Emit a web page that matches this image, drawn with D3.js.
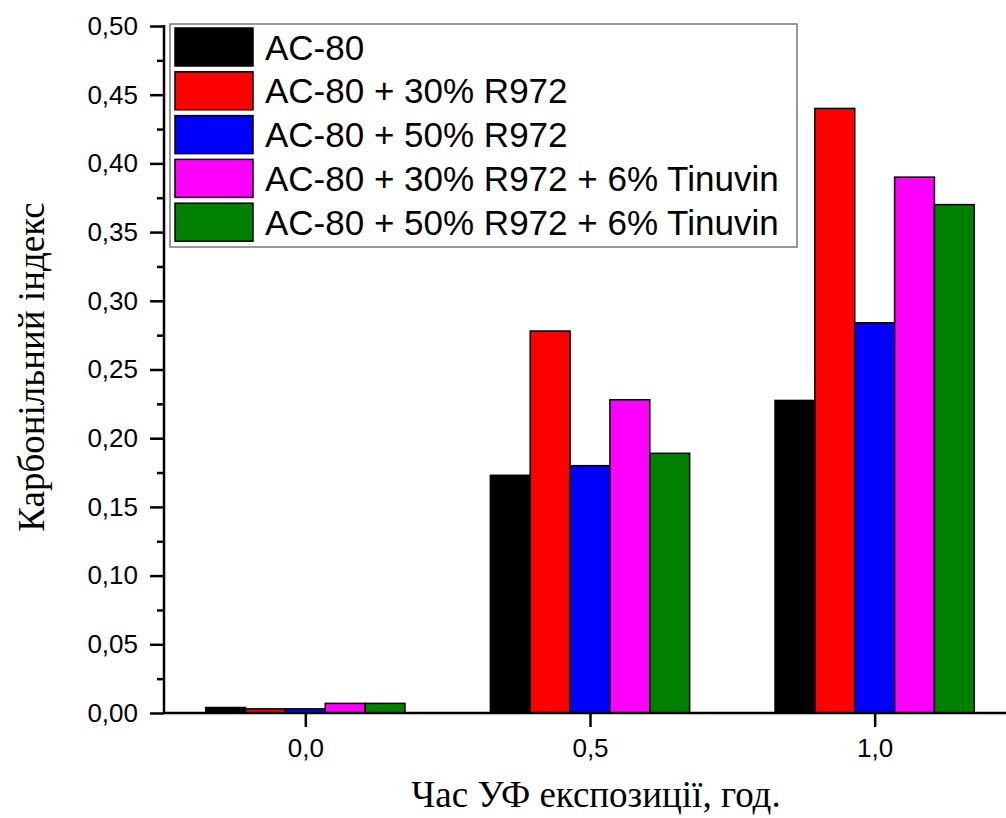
<!DOCTYPE html>
<html>
<head>
<meta charset="utf-8">
<script src="https://cdn.jsdelivr.net/npm/d3@7"></script>
<style>
  body { margin: 0; background: #fff; }
  svg { display: block; }
</style>
</head>
<body>
<div id="chart"></div>
<script>
// категорії (час експозиції) і серії
const hours = [0.0, 0.5, 1.0];
const seriesNames = ["AC-80", "AC-80 + 30% R972", "AC-80 + 50% R972", "AC-80 + 30% R972 + 6% Tinuvin", "AC-80 + 50% R972 + 6% Tinuvin"];
const seriesColors = ["#000000", "#ff0000", "#0000ff", "#ff00ff", "#008000"];
const ac80 = [0.004, 0.173, 0.2275];
const ac80r30 = [0.003, 0.278, 0.44];
const ac80r50 = [0.003, 0.180, 0.284];
const ac80r30t = [0.007, 0.228, 0.39];
const ac80r50t = [0.007, 0.189, 0.37];
const yTicks = [0, 0.05, 0.10, 0.15, 0.20, 0.25, 0.30, 0.35, 0.40, 0.45, 0.50];
const xTicks = [0.0, 0.5, 1.0];

const seriesValues = [ac80, ac80r30, ac80r50, ac80r30t, ac80r50t];

const W = 1006, H = 818;
const plotLeft = 164, plotTop = 26, plotBottom = 713;
const sans = "Arial, 'Liberation Sans', sans-serif";
const serif = "'Times New Roman', 'Liberation Serif', serif";

const svg = d3.select("#chart").append("svg")
  .attr("width", W).attr("height", H);

const x = d3.scaleLinear().domain([-0.25, 1.25]).range([163, 1017]);
const y = d3.scaleLinear().domain([0, 0.5]).range([plotBottom, plotTop]);

const barW = 0.07;
const fmt = d3.format(".2f"), fmt1 = d3.format(".1f");

// стовпці
seriesValues.forEach((vals, s) => {
  svg.append("g").selectAll("rect")
    .data(vals)
    .enter()
    .append("rect")
    .attr("x", (d, i) => x(hours[i] - 2.5 * barW + s * barW))
    .attr("y", d => y(d))
    .attr("width", (d, i) => x(hours[i] + barW) - x(hours[i]))
    .attr("height", d => y(0) - y(d))
    .attr("fill", seriesColors[s])
    .attr("stroke", "#000")
    .attr("stroke-width", 1.5);
});

// вісь Y
const yAxis = svg.append("g")
  .attr("transform", `translate(${plotLeft},0)`)
  .call(d3.axisLeft(y).tickValues(yTicks).tickSize(14).tickPadding(12)
    .tickFormat(d => fmt(d).replace(".", ",")));
const yMinor = svg.append("g")
  .attr("transform", `translate(${plotLeft},0)`)
  .call(d3.axisLeft(y).tickValues(d3.range(0.025, 0.5, 0.05)).tickSize(7).tickFormat(""));

// вісь X
const xAxis = svg.append("g")
  .attr("transform", `translate(0,${plotBottom})`)
  .call(d3.axisBottom(x).tickValues(xTicks).tickSize(14).tickPadding(12)
    .tickFormat(d => fmt1(d).replace(".", ",")));

[yAxis, yMinor, xAxis].forEach(g => {
  g.select(".domain").remove();
  g.selectAll("line").attr("stroke", "#000").attr("stroke-width", 2.5);
  g.selectAll("text").attr("font-family", sans)
    .attr("font-size", 26).attr("fill", "#000");
});

svg.append("line").attr("x1", plotLeft).attr("x2", plotLeft).attr("y1", plotTop - 1).attr("y2", plotBottom)
  .attr("stroke", "#000").attr("stroke-width", 2.5);
svg.append("line").attr("x1", plotLeft).attr("x2", W).attr("y1", plotBottom).attr("y2", plotBottom)
  .attr("stroke", "#000").attr("stroke-width", 2.5);

// підписи осей
svg.append("text")
  .attr("transform", `translate(44,367) rotate(-90)`)
  .attr("text-anchor", "middle")
  .attr("font-family", serif)
  .attr("font-size", 37)
  .text("Карбонільний індекс");

svg.append("text")
  .attr("x", 596).attr("y", 807)
  .attr("text-anchor", "middle")
  .attr("font-family", serif)
  .attr("font-size", 37)
  .text("Час УФ експозиції, год.");

// легенда
const lg = svg.append("g");
lg.append("rect")
  .attr("x", 170).attr("y", 24).attr("width", 627).attr("height", 223)
  .attr("fill", "#fff").attr("stroke", "#777").attr("stroke-width", 1.5);
seriesNames.forEach((name, i) => {
  const yy = 28 + i * 43.8;
  lg.append("rect")
    .attr("x", 175).attr("y", yy).attr("width", 78).attr("height", 38)
    .attr("fill", seriesColors[i]).attr("stroke", "#000").attr("stroke-width", 1.5);
  lg.append("text")
    .attr("x", 265).attr("y", yy + 31.5)
    .attr("font-family", sans)
    .attr("font-size", 35)
    .text(name);
});
</script>
</body>
</html>
